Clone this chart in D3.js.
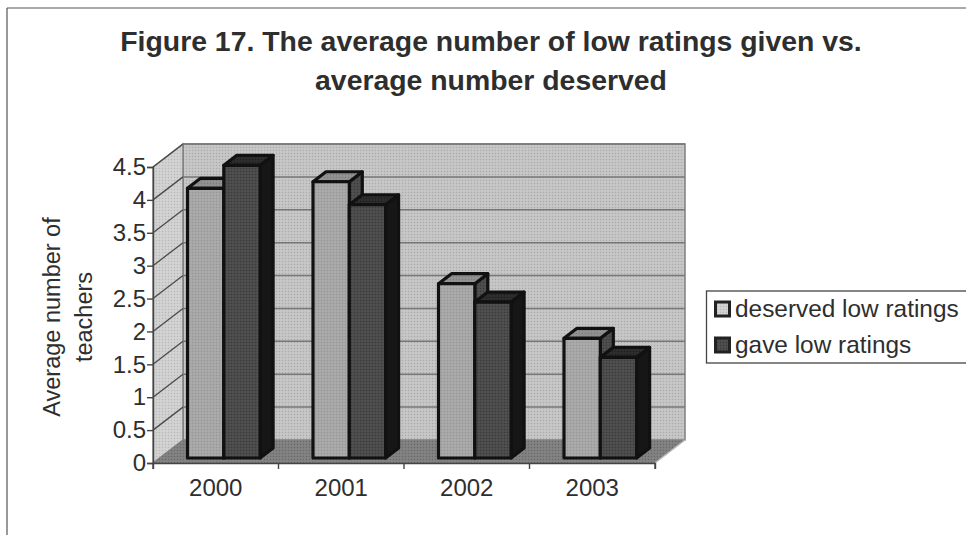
<!DOCTYPE html>
<html>
<head>
<meta charset="utf-8">
<script src="https://cdn.jsdelivr.net/npm/d3@7/dist/d3.min.js"></script>
<style>
html,body{margin:0;padding:0;background:#fff;}
svg{display:block;}
text{font-family:"Liberation Sans",Arial,sans-serif;fill:#2e2e2e;}
</style>
</head>
<body>
<script>
const years = ["2000","2001","2002","2003"];
const deservedLow = [4.1,4.2,2.65,1.82];
const gaveLow = [4.45,3.85,2.37,1.53];
const seriesNames = ["deserved low ratings","gave low ratings"];
const yTicks = [0,0.5,1,1.5,2,2.5,3,3.5,4,4.5];
const titleLines = ["Figure 17. The average number of low ratings given vs.","average number deserved"];
const yTitleLines = ["Average number of","teachers"];

const W = 966, H = 535;
const svg = d3.select("body").append("svg").attr("width",W).attr("height",H);
const defs = svg.append("defs");

// Halftone fills: a base tone with a fine checker of lighter and darker dots
function halftone(id, base, dot, blob){
  const p = defs.append("pattern").attr("id",id).attr("width",3).attr("height",3)
    .attr("patternUnits","userSpaceOnUse");
  p.append("rect").attr("width",3).attr("height",3).attr("fill",base);
  p.append("rect").attr("x",0).attr("y",0).attr("width",1).attr("height",1).attr("fill",dot);
  p.append("rect").attr("x",1.5).attr("y",1.5).attr("width",1).attr("height",1).attr("fill",blob);
}
halftone("wall","#c2c2c2","#aaaaaa","#d6d6d6");
halftone("side","#cecece","#b8b8b8","#e4e4e4");
halftone("floor","#7e7e7e","#686868","#929292");
halftone("light","#a6a6a6","#949494","#b8b8b8");
halftone("dark","#4a4a4a","#383838","#5c5c5c");
halftone("darkTop","#2a2a2a","#1e1e1e","#3a3a3a");
halftone("lightTop","#8e8e8e","#7c7c7c","#9e9e9e");

// Plot geometry: front plane of the box and the receding depth offset
const x = d3.scaleBand().domain(years).range([153,655]);
const y = d3.scaleLinear().domain([0,4.5]).range([463,167]);
const depthX = 30, depthY = -23;
const x0 = x.range()[0], x1 = x.range()[1], y0 = y(0), yT = y(4.5);
const poly = pts => pts.map(p=>p.join(",")).join(" ");

const chart = svg.append("g");
// back wall
chart.append("polygon").attr("points",poly([[x0+depthX,y0+depthY],[x1+depthX,y0+depthY],[x1+depthX,yT+depthY],[x0+depthX,yT+depthY]]))
  .attr("fill","url(#wall)").attr("stroke","#808080").attr("stroke-width",1.5);
// left wall
chart.append("polygon").attr("points",poly([[x0,y0],[x0+depthX,y0+depthY],[x0+depthX,yT+depthY],[x0,yT]]))
  .attr("fill","url(#side)").attr("stroke","#808080").attr("stroke-width",1.5);
// floor
chart.append("polygon").attr("points",poly([[x0,y0],[x1,y0],[x1+depthX,y0+depthY],[x0+depthX,y0+depthY]]))
  .attr("fill","url(#floor)");
chart.append("path").attr("d",`M${x1},${y0}L${x1+depthX},${y0+depthY}`).attr("stroke","#bbb").attr("stroke-width",1.5);

// gridlines run along the left wall and across the back wall
const grid = chart.append("g");
yTicks.slice(1).forEach(t=>{
  const yy = y(t);
  grid.append("path").attr("fill","none").attr("stroke","#4a4a4a").attr("stroke-width",1.3)
    .attr("d",`M${x0},${yy}L${x0+depthX},${yy+depthY}`);
  grid.append("path").attr("fill","none").attr("stroke","#777").attr("stroke-width",1.5)
    .attr("d",`M${x0+depthX},${yy+depthY}L${x1+depthX},${yy+depthY}`);
});

// 3-D bars, drawn back to front per group so each dark bar overlaps its neighbour's side
const barOffset = 28.5, barW = 36.3, barDX = 6, barDY = -5, barDepthX = 13, barDepthY = -10;
function drawBar(g, left, value, face, top, side){
  const bot = y(0)+barDY, tp = y(value)+barDY, l = left, r = left+barW;
  const st = {stroke:"#111","stroke-width":3.2,"stroke-linejoin":"round"};
  const apply = s => { Object.entries(st).forEach(([k,v])=>s.attr(k,v)); return s; };
  apply(g.append("polygon").attr("points",poly([[r,bot],[r+barDepthX,bot+barDepthY],[r+barDepthX,tp+barDepthY],[r,tp]])).attr("fill",side));
  apply(g.append("polygon").attr("points",poly([[l,tp],[r,tp],[r+barDepthX,tp+barDepthY],[l+barDepthX,tp+barDepthY]])).attr("fill",top));
  apply(g.append("rect").attr("x",l).attr("y",tp).attr("width",barW).attr("height",bot-tp).attr("fill",face));
}
const bars = chart.append("g");
years.forEach((yr,i)=>{
  const g = bars.append("g");
  const left = x(yr)+barOffset+barDX;
  drawBar(g,left,deservedLow[i],"url(#light)","url(#lightTop)","url(#dark)");
  drawBar(g,left+barW,gaveLow[i],"url(#dark)","url(#darkTop)","#161616");
});

// axes
const yAxis = d3.axisLeft(y).tickValues(yTicks).tickFormat(d=>String(d)).tickSize(6).tickPadding(1);
const yG = svg.append("g").attr("transform",`translate(${x0},0)`).call(yAxis);
const xAxis = d3.axisBottom(x).tickSize(6).tickPadding(10);
const xG = svg.append("g").attr("transform",`translate(0,${y0})`).call(xAxis);
[yG,xG].forEach(g=>{
  g.selectAll("path.domain,line").attr("stroke","#444").attr("stroke-width",1.4);
  g.selectAll("text").attr("font-size",24).attr("fill","#2e2e2e");
});
// category ticks sit on the band boundaries rather than the centres
xG.selectAll(".tick line").remove();
x.domain().concat("end").forEach((d,i)=>{
  const tx = x0 + i*x.step();
  xG.append("line").attr("x1",tx).attr("x2",tx).attr("y1",0).attr("y2",6).attr("stroke","#444").attr("stroke-width",1.4);
});

// titles
svg.append("g").selectAll("text").data(titleLines).join("text")
  .attr("x",491).attr("y",(d,i)=>51+i*39).attr("text-anchor","middle")
  .attr("font-size",28.4).attr("font-weight","bold").text(d=>d);
svg.append("g").attr("transform","translate(66,317) rotate(-90)").selectAll("text").data(yTitleLines).join("text")
  .attr("x",0).attr("y",(d,i)=>-6+i*32).attr("text-anchor","middle")
  .attr("font-size",23.5).text(d=>d);

// legend
const legend = svg.append("g");
legend.append("rect").attr("x",706.5).attr("y",291).attr("width",270).attr("height",72)
  .attr("fill","#fff").attr("stroke","#444").attr("stroke-width",1.3);
seriesNames.forEach((n,i)=>{
  const ly = 309+i*36;
  legend.append("rect").attr("x",715.5).attr("y",ly-7).attr("width",14).attr("height",14)
    .attr("fill",i?"url(#dark)":"url(#side)").attr("stroke","#222").attr("stroke-width",3);
  legend.append("text").attr("x",735).attr("y",ly+8).attr("font-size",24.4).text(n);
});

// page frame lines
svg.append("path").attr("d","M7,8H966M7,8V535").attr("fill","none").attr("stroke","#555").attr("stroke-width",1.2);
</script>
</body>
</html>
